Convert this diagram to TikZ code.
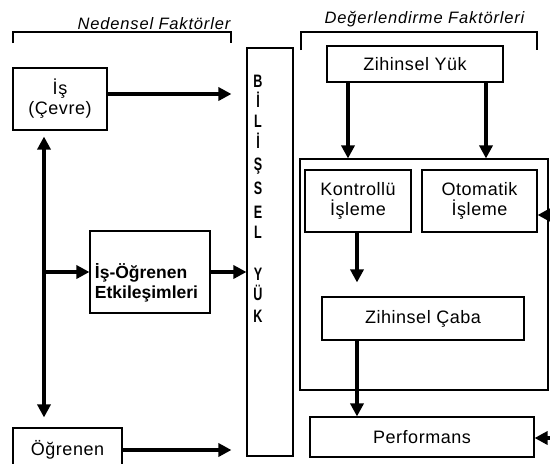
\documentclass[tikz,border=0pt]{standalone}
\usepackage{fontspec}
\setmainfont{Liberation Sans}
\newfontfamily\nfont{Liberation Sans}[LetterSpace=3]
\newfontfamily\hfont{Liberation Sans}[LetterSpace=5]
\usetikzlibrary{arrows.meta}
\begin{document}
\begin{tikzpicture}[x=1pt,y=-1pt,
  box/.style={draw, line width=1.1pt, inner sep=0pt},
  txt/.style={font=\nfont\fontsize{18}{20}\selectfont, align=center, inner sep=0pt},
  hdr/.style={font=\hfont\itshape\fontsize{16.5}{18}\selectfont, inner sep=0pt},
  btxt/.style={font=\bfseries\fontsize{17.5}{20}\selectfont, align=left, inner sep=0pt},
  vl/.style={font=\bfseries\fontsize{18}{18}\selectfont, inner sep=0pt},
  arr/.style={line width=4.5pt, -{Triangle[length=13pt,width=13pt]}},
  darr/.style={line width=4.5pt, {Triangle[length=13pt,width=13pt]}-{Triangle[length=13pt,width=13pt]}},
  brk/.style={line width=1.2pt}]
\useasboundingbox[fill=white] (0,0) rectangle (550,464);

% headers and brackets
\node[hdr, anchor=base] (h1) at (154,29) {Nedensel Faktörler};
\node[hdr, anchor=base] (h2) at (424.5,23.5) {Değerlendirme Faktörleri};
\draw[brk] (13,43) -- (13,32) -- (231,32) -- (231,43);
\draw[brk] (301,50) -- (301,32) -- (537,32) -- (537,50);

% left boxes
\node[box, txt, minimum width=94pt, minimum height=62pt] (is) at (60,99) {İş\\(Çevre)};
\node[box, minimum width=120pt, minimum height=82pt] (ie) at (150,272) {};
\node[btxt] (iet) at (146.5,283) {İş-Öğrenen\\Etkileşimleri};
\node[box, txt, minimum width=109pt, minimum height=44pt] (og) at (67.5,450) {Öğrenen};

% bilissel yuk column
\node[box, minimum width=46pt, minimum height=408pt] (bl) at (270,252) {};
\foreach \l/\y [count=\i] in {B/87,İ/107,L/127,İ/148,Ş/170,S/194,E/218,L/238,Y/280,Ü/300,K/322}
  \node[vl, anchor=base] (v\i) at (258,\y) {\scalebox{0.7}[1]{\l}};

% right side
\node[box, txt, minimum width=176pt, minimum height=36pt] (zy) at (415,64) {Zihinsel Yük};
\node[box, minimum width=248pt, minimum height=231pt] (big) at (424,274.5) {};
\node[box, txt, minimum width=106pt, minimum height=62pt] (k) at (358,201) {Kontrollü\\İşleme};
\node[box, txt, minimum width=115pt, minimum height=62pt] (ot) at (479.5,201) {Otomatik\\İşleme};
\node[box, txt, minimum width=202pt, minimum height=43pt] (ca) at (423,318.5) {Zihinsel Çaba};
\node[box, txt, minimum width=224pt, minimum height=40pt] (pf) at (422,437) {Performans};

% helper coordinates
\coordinate (vx) at (44,0);
\coordinate (a1) at (0,94);
\coordinate (xa) at (348,0);
\coordinate (xb) at (486,0);
\coordinate (xk) at (357,0);
\coordinate (re1) at (552,215);
\coordinate (re2) at (552,438);

% arrows left
\draw[arr, shorten >=15pt] (a1 -| is.east) -- (a1 -| bl.west);
\draw[darr, shorten <=6pt, shorten >=10pt] (is.south -| vx) -- (og.north -| vx);
\draw[arr] (vx |- ie.west) -- (ie.west);
\draw[arr] (ie.east) -- (ie.east -| bl.west);
\draw[arr, shorten >=15pt] (og.east) -- (og.east -| bl.west);

% arrows right
\draw[arr] (zy.south -| xa) -- (big.north -| xa);
\draw[arr] (zy.south -| xb) -- (big.north -| xb);
\draw[arr, shorten >=14pt] (k.south -| xk) -- (ca.north -| xk);
\draw[arr] (ca.south -| xk) -- (pf.north -| xk);
\draw[arr] (re1) -- (re1 -| ot.east);
\draw[arr] (re2) -- (re2 -| pf.east);
\end{tikzpicture}
\end{document}
